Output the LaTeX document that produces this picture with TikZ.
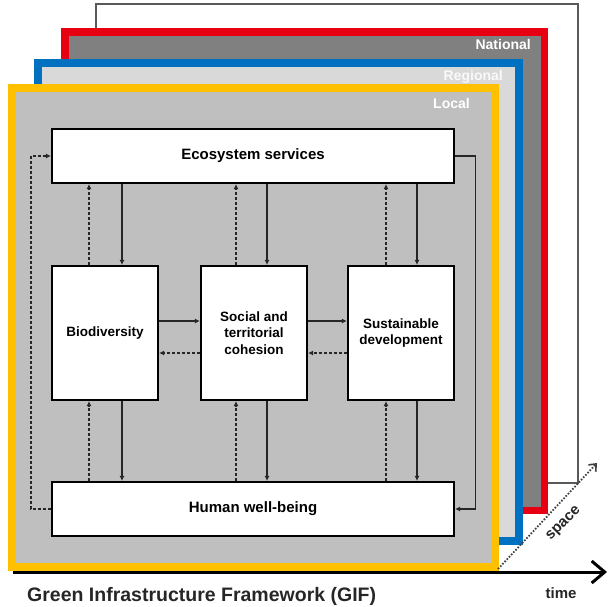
\documentclass[tikz,border=0pt]{standalone}
\usepackage{fontspec}
\setmainfont{Liberation Sans}
\usetikzlibrary{arrows.meta}
\definecolor{yel}{HTML}{FFC000}
\definecolor{blu}{HTML}{0070C0}
\definecolor{rd}{HTML}{E60012}
\definecolor{gdark}{HTML}{808080}
\definecolor{glight}{HTML}{D9D9D9}
\definecolor{gmid}{HTML}{BFBFBF}
\tikzset{
  box/.style={draw=black, line width=2.2pt, fill=white, inner sep=2pt, align=center,
    font=\fontsize{13.5}{16.5}\selectfont\bfseries},
  widebox/.style={box, minimum width=402pt, minimum height=54pt, font=\fontsize{15}{17}\selectfont\bfseries},
  tallbox/.style={box, minimum width=106pt, minimum height=134pt},
  solidarrow/.style={draw=black!85, line width=1.2pt, -{Latex[length=5pt,width=5pt]}},
  dasharrow/.style={draw=black!85, line width=1.2pt, dash pattern=on 3pt off 2pt, -{Latex[length=5pt,width=5pt]}},
  layerlabel/.style={anchor=east, text=white, font=\fontsize{14}{16}\selectfont\bfseries, inner sep=0pt},
  frame/.style={line width=7.5pt, line join=miter},
}
\begin{document}
\begin{tikzpicture}[x=1pt, y=-1pt]
\useasboundingbox (0,0) rectangle (609,606);
% layers
\draw[draw=black!65, line width=1.2pt, fill=white] (96,4) rectangle (578,483);
\draw[frame, draw=rd, fill=gdark] (65,32) rectangle (544.5,510.5);
\draw[frame, draw=blu, fill=glight] (38,63) rectangle (519,541);
\draw[frame, draw=yel, fill=gmid] (12,88) rectangle (495.5,567);
\node[layerlabel] (nat) at (531,44) {National};
\node[layerlabel, text=white!95!gray] (reg) at (503,77) {Regional};
\node[layerlabel] (loc) at (470,103) {Local};
% boxes
\node[widebox] (eco) at (253,156) {Ecosystem services};
\node[tallbox] (bio) at (105,333) {Biodiversity};
\node[tallbox] (soc) at (254,333) {Social and\\territorial\\cohesion};
\node[tallbox] (sus) at (401,333) {Sustainable\\development};
\node[widebox] (hum) at (253,509) {Human well-being};
% vertical arrows
\foreach \n/\d/\s in {bio/-16/17, soc/-18/13, sus/-15/16}{
  \draw[solidarrow] ([xshift=\s pt]\n.north |- eco.south) -- ([xshift=\s pt]\n.north);
  \draw[dasharrow] ([xshift=\d pt]\n.north) -- ([xshift=\d pt]\n.north |- eco.south);
  \draw[solidarrow] ([xshift=\s pt]\n.south) -- ([xshift=\s pt]\n.south |- hum.north);
  \draw[dasharrow] ([xshift=\d pt]\n.south |- hum.north) -- ([xshift=\d pt]\n.south);
}
% horizontal arrows
\draw[solidarrow] ([yshift=12pt]bio.east) -- ([yshift=12pt]bio.east -| soc.west);
\draw[dasharrow] ([yshift=-20pt]soc.west) -- ([yshift=-20pt]soc.west -| bio.east);
\draw[solidarrow] ([yshift=12pt]soc.east) -- ([yshift=12pt]soc.east -| sus.west);
\draw[dasharrow] ([yshift=-20pt]sus.west) -- ([yshift=-20pt]sus.west -| soc.east);
% loops
\draw[dasharrow] (hum.west) -- ++(-20,0) |- (eco.west);
\draw[solidarrow] (eco.east) -- ++(20,0) |- (hum.east);
% axes
\coordinate (t0) at (13,572);
\coordinate (t1) at (607,572);
\coordinate (s0) at (498,569);
\coordinate (s1) at (597,463);
\draw[black, line width=3pt, -{Straight Barb[length=13pt,width=22pt,line width=3pt]}] (t0) -- (t1);
\draw[black!75, line width=1.8pt, dash pattern=on 1.6pt off 1.6pt, -{Straight Barb[length=6pt,width=10pt,line width=1.6pt]}] (s0) -- (s1);
\node[font=\fontsize{15}{17}\selectfont\bfseries, text=black!85] (time) at (561,593) {time};
\node[font=\fontsize{15}{17}\selectfont\bfseries, text=black!85, rotate=45] (space) at (564,524) {space};
\node[anchor=west, font=\fontsize{19.5}{22}\selectfont\bfseries, text=black!85, inner sep=0pt] (gif) at (27,596) {Green Infrastructure Framework (GIF)};
\end{tikzpicture}
\end{document}
